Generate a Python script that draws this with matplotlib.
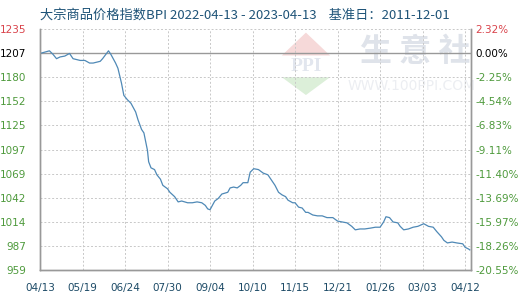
import numpy as np
import matplotlib.pyplot as plt
from matplotlib.patches import Polygon

plt.rcParams['font.family'] = ['DejaVu Sans', 'Noto Sans CJK SC']

# days since 2022-04-13 and BPI values
days = [0, 8, 11, 14, 17, 21, 25, 28, 34, 38, 42, 45, 51, 53, 58, 60, 64, 66,
        69, 71, 74, 77, 81, 83, 86, 88, 91, 92, 94, 97, 99, 102, 104, 108, 110,
        114, 117, 120, 125, 129, 133, 137, 140, 142, 144, 146, 148, 151, 154,
        159, 161, 164, 167, 170, 172, 176, 178, 181, 185, 189, 193, 197, 199,
        202, 205, 208, 210, 214, 216, 219, 222, 225, 227, 231, 235, 239, 243,
        248, 252, 256, 260, 264, 267, 271, 275, 280, 284, 288, 291, 293, 296,
        299, 303, 305, 308, 312, 316, 320, 325, 329, 333, 336, 340, 342, 345,
        349, 353, 358, 360, 363, 364]
bpi = [1207, 1210, 1206, 1201, 1203, 1204, 1207, 1201, 1199, 1199, 1196, 1196,
       1198, 1201, 1210, 1206, 1196, 1190, 1173, 1159, 1154, 1150, 1140, 1131,
       1120, 1116, 1096, 1083, 1076, 1074, 1068, 1063, 1056, 1052, 1048, 1043,
       1037, 1038, 1036, 1036, 1037, 1036, 1033, 1029, 1028, 1033, 1038, 1041,
       1046, 1048, 1053, 1054, 1053, 1056, 1059, 1059, 1071, 1075, 1074, 1070,
       1068, 1060, 1056, 1048, 1045, 1043, 1039, 1036, 1036, 1031, 1030, 1025,
       1025, 1022, 1021, 1021, 1019, 1019, 1015, 1014, 1013, 1009, 1005, 1006,
       1006, 1007, 1008, 1008, 1014, 1020, 1019, 1014, 1013, 1009, 1005, 1006,
       1008, 1009, 1012, 1009, 1008, 1003, 997, 993, 990, 991, 990, 989, 985,
       983, 982]

y_labels = ['1235', '1207', '1180', '1152', '1125', '1097', '1069', '1042',
            '1014', '987', '959']
pct_labels = ['2.32%', '0.00%', '-2.25%', '-4.54%', '-6.83%', '-9.11%',
              '-11.40%', '-13.69%', '-15.97%', '-18.26%', '-20.55%']
x_labels = ['04/13', '05/19', '06/24', '07/30', '09/04', '10/10', '11/15',
            '12/21', '01/26', '03/03', '04/12']
x_ticks = [0, 36, 72, 108, 144, 180, 216, 252, 288, 324, 360]

base = 1207
y_top, y_bot = 1235, 959
y_ticks = np.linspace(y_top, y_bot, 11)

green = '#4e9a3c'
red = '#d9434b'
line_c = '#4f89b6'

fig = plt.figure(figsize=(5.2, 3.0), dpi=100)
ax = fig.add_axes([40 / 520, 30 / 300, 431 / 520, 241 / 300])

ax.plot(days, bpi, color=line_c, lw=0.9, zorder=3)

ax.set_xlim(0, 365)
ax.set_ylim(y_bot, y_top)
ax.set_xticks(x_ticks)
ax.set_xticklabels(x_labels, color='#1c4a66', fontsize=7.5)
ax.set_yticks(y_ticks)
ax.set_yticklabels(y_labels, fontsize=7.5)
ax.tick_params(axis='both', length=0)
ax.tick_params(axis='x', pad=9)
ax.tick_params(axis='y', pad=10)
for i, t in enumerate(ax.get_yticklabels()):
    t.set_color(red if i == 0 else ('black' if i == 1 else green))

ax2 = ax.twinx()
ax2.set_ylim(y_bot, y_top)
ax2.set_yticks(y_ticks)
ax2.set_yticklabels(pct_labels, fontsize=7.5)
ax2.tick_params(axis='y', length=0, pad=3)
for i, t in enumerate(ax2.get_yticklabels()):
    t.set_color(red if i == 0 else ('black' if i == 1 else green))

ax.grid(True, color='#c8c8c8', linestyle=(0, (2, 2)), lw=0.7)
ax.axhline(base, color='#999999', lw=1.0, zorder=2)
for a in (ax, ax2):
    a.spines['top'].set_visible(False)
    for s in ('left', 'bottom', 'right'):
        a.spines[s].set_color('#999999')
        a.spines[s].set_linewidth(1.0)

# watermark
wm = '#dfe3ea'
ax.text(0.87, 0.905, '生 意 社', transform=ax.transAxes, fontsize=23,
        color=wm, ha='center', va='center', family='Noto Sans CJK SC',
        fontweight='bold', zorder=1)
ax.text(0.862, 0.763, 'WWW.100PPI.COM', transform=ax.transAxes, fontsize=10,
        color='#eceef2', ha='center', va='center', zorder=1)
ax.add_patch(Polygon([[0.561, 0.89], [0.617, 0.985], [0.673, 0.89]],
                     closed=True, transform=ax.transAxes,
                     color='#f6d9d9', lw=0, zorder=1))
ax.add_patch(Polygon([[0.561, 0.80], [0.617, 0.726], [0.673, 0.80]],
                     closed=True, transform=ax.transAxes,
                     color='#dcefd9', lw=0, zorder=1))
ax.text(0.617, 0.845, 'PPI', transform=ax.transAxes, fontsize=14,
        color='#e2e6ee', ha='center', va='center', fontweight='bold',
        family='Liberation Serif', zorder=1)

fig.text(40 / 520, 1 - 15 / 300,
         '大宗商品价格指数BPI 2022-04-13 - 2023-04-13    基准日：2011-12-01',
         color='#1f5478', fontsize=9.5, va='center', ha='left',
         family=['Noto Sans CJK SC', 'DejaVu Sans'])

fig.savefig('out.png', dpi=100)
